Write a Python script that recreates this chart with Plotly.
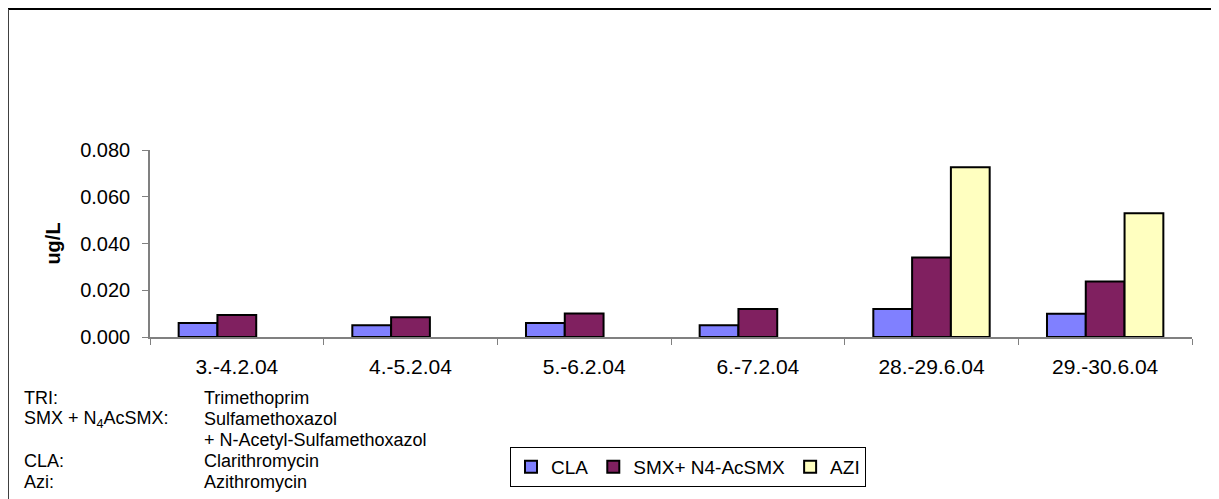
import plotly.graph_objects as go

categories = ["3.-4.2.04", "4.-5.2.04", "5.-6.2.04", "6.-7.2.04", "28.-29.6.04", "29.-30.6.04"]
cla = [0.006, 0.005, 0.006, 0.005, 0.012, 0.010]
smx = [0.0094, 0.0085, 0.0101, 0.0120, 0.0340, 0.0237]
azi = [None, None, None, None, 0.0726, 0.0529]
series_names = ["CLA", "SMX+ N4-AcSMX", "AZI"]
colors = ["#8080FF", "#802060", "#FFFFC0"]

foot_left = ["TRI:", "SMX + N<sub>4</sub>AcSMX:", "", "CLA:", "Azi:"]
foot_right = ["Trimethoprim", "Sulfamethoxazol", "+ N-Acetyl-Sulfamethoxazol", "Clarithromycin", "Azithromycin"]

# page body has an 8px default margin; work in page pixels and offset
OFF = 8
W, H = 1219 - OFF, 499 - OFF
L, R, T, B = 150, 1192, 150, 337
FONT = "Arial, Liberation Sans, sans-serif"

def px(x):
    return (x - L) / (R - L)

def py(y):
    return (B - y) / (B - T)

fig = go.Figure()
for name, vals, col in zip(series_names, [cla, smx, azi], colors):
    fig.add_trace(go.Bar(x=categories, y=vals, name=name,
                         marker=dict(color=col, line=dict(color="black", width=2))))

fig.update_layout(
    width=W, height=H,
    margin=dict(l=L - OFF, r=1219 - R, t=T - OFF, b=499 - B, pad=0),
    paper_bgcolor="white", plot_bgcolor="white",
    barmode="group", bargap=0.33, bargroupgap=0,
    font=dict(family=FONT, size=20, color="black"),
    showlegend=True,
    legend=dict(orientation="h", x=px(510), y=py(447), xanchor="left", yanchor="top",
                bordercolor="black", borderwidth=1, bgcolor="white",
                font=dict(size=19, family=FONT), itemwidth=30, tracegroupgap=0),
)
fig.update_xaxes(showline=True, linecolor="#808080", linewidth=1.5, ticks="outside",
                 tickson="boundaries", ticklen=6, tickcolor="#808080", showgrid=False,
                 tickfont=dict(size=21), ticklabelstandoff=10)
fig.update_yaxes(range=[0, 0.08], dtick=0.02, tickformat=".3f", showline=True,
                 linecolor="#808080", linewidth=1.5, ticks="outside", ticklen=6,
                 tickcolor="#808080", showgrid=False, zeroline=False,
                 tickfont=dict(size=20), ticklabelstandoff=8,
                 title=dict(text="<b>ug/L</b>", font=dict(size=20), standoff=14))

rows_y = [398, 419, 440, 461, 482]
for yy, lt, rt in zip(rows_y, foot_left, foot_right):
    if lt:
        fig.add_annotation(text=lt, xref="paper", yref="paper", x=px(22), y=py(yy),
                           xanchor="left", yanchor="middle", showarrow=False,
                           font=dict(size=18, family=FONT))
    fig.add_annotation(text=rt, xref="paper", yref="paper", x=px(202), y=py(yy),
                       xanchor="left", yanchor="middle", showarrow=False,
                       font=dict(size=18, family=FONT))

# outer frame (top and left edges)
fig.add_shape(type="line", xref="paper", yref="paper", x0=px(8), x1=px(1219), y0=py(9), y1=py(9),
              line=dict(color="black", width=2))
fig.add_shape(type="line", xref="paper", yref="paper", x0=px(8), x1=px(8), y0=py(9), y1=py(499),
              line=dict(color="#404040", width=2))

fig.write_html("out.html")
